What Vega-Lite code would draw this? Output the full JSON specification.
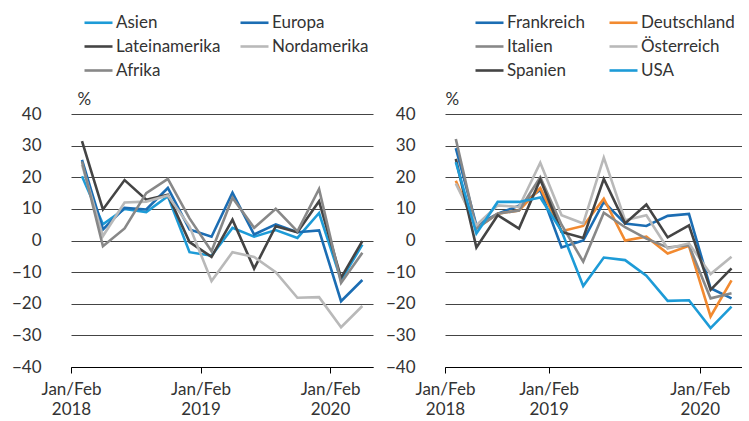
{
  "$schema": "https://vega.github.io/schema/vega-lite/v6.json",
  "padding": {"left": 11, "top": 7, "right": 0, "bottom": 0},
  "background": "white",
  "config": {
    "font": "Lato",
    "view": {"stroke": null},
    "axis": {"labelFont": "Lato", "labelFontSize": 17, "labelColor": "#333333", "titleFont": "Lato", "titleFontSize": 17, "titleColor": "#333333", "titleFontWeight": "normal"},
    "legend": {"labelFont": "Lato", "labelFontSize": 17, "labelColor": "#333333"},
    "line": {"strokeWidth": 2.6}
  },
  "datasets": {
    "regionen": [
      {"region": "Asien", "date": "2018-02-01T00:00:00", "value": 20.3},
      {"region": "Asien", "date": "2018-04-01T00:00:00", "value": 5.1},
      {"region": "Asien", "date": "2018-06-01T00:00:00", "value": 10},
      {"region": "Asien", "date": "2018-08-01T00:00:00", "value": 9},
      {"region": "Asien", "date": "2018-10-01T00:00:00", "value": 14},
      {"region": "Asien", "date": "2018-12-01T00:00:00", "value": -3.7},
      {"region": "Asien", "date": "2019-02-01T00:00:00", "value": -4.8},
      {"region": "Asien", "date": "2019-04-01T00:00:00", "value": 4},
      {"region": "Asien", "date": "2019-06-01T00:00:00", "value": 1.2},
      {"region": "Asien", "date": "2019-08-01T00:00:00", "value": 3.3},
      {"region": "Asien", "date": "2019-10-01T00:00:00", "value": 0.8},
      {"region": "Asien", "date": "2019-12-01T00:00:00", "value": 8.7},
      {"region": "Asien", "date": "2020-02-01T00:00:00", "value": -12.5},
      {"region": "Asien", "date": "2020-04-01T00:00:00", "value": -1.3},
      {"region": "Europa", "date": "2018-02-01T00:00:00", "value": 25.5},
      {"region": "Europa", "date": "2018-04-01T00:00:00", "value": 3.5},
      {"region": "Europa", "date": "2018-06-01T00:00:00", "value": 10.3},
      {"region": "Europa", "date": "2018-08-01T00:00:00", "value": 9.8},
      {"region": "Europa", "date": "2018-10-01T00:00:00", "value": 16.6},
      {"region": "Europa", "date": "2018-12-01T00:00:00", "value": 3.5},
      {"region": "Europa", "date": "2019-02-01T00:00:00", "value": 1.2},
      {"region": "Europa", "date": "2019-04-01T00:00:00", "value": 15.1},
      {"region": "Europa", "date": "2019-06-01T00:00:00", "value": 1.9},
      {"region": "Europa", "date": "2019-08-01T00:00:00", "value": 5.1},
      {"region": "Europa", "date": "2019-10-01T00:00:00", "value": 2.6},
      {"region": "Europa", "date": "2019-12-01T00:00:00", "value": 3.2},
      {"region": "Europa", "date": "2020-02-01T00:00:00", "value": -19.2},
      {"region": "Europa", "date": "2020-04-01T00:00:00", "value": -12.5},
      {"region": "Lateinamerika", "date": "2018-02-01T00:00:00", "value": 31.4},
      {"region": "Lateinamerika", "date": "2018-04-01T00:00:00", "value": 9.8},
      {"region": "Lateinamerika", "date": "2018-06-01T00:00:00", "value": 19.1},
      {"region": "Lateinamerika", "date": "2018-08-01T00:00:00", "value": 12.9},
      {"region": "Lateinamerika", "date": "2018-10-01T00:00:00", "value": 14.5},
      {"region": "Lateinamerika", "date": "2018-12-01T00:00:00", "value": -0.5},
      {"region": "Lateinamerika", "date": "2019-02-01T00:00:00", "value": -5.2},
      {"region": "Lateinamerika", "date": "2019-04-01T00:00:00", "value": 6.6},
      {"region": "Lateinamerika", "date": "2019-06-01T00:00:00", "value": -8.9},
      {"region": "Lateinamerika", "date": "2019-08-01T00:00:00", "value": 4.5},
      {"region": "Lateinamerika", "date": "2019-10-01T00:00:00", "value": 2.6},
      {"region": "Lateinamerika", "date": "2019-12-01T00:00:00", "value": 12.4},
      {"region": "Lateinamerika", "date": "2020-02-01T00:00:00", "value": -11.8},
      {"region": "Lateinamerika", "date": "2020-04-01T00:00:00", "value": -0.2},
      {"region": "Nordamerika", "date": "2018-02-01T00:00:00", "value": 24},
      {"region": "Nordamerika", "date": "2018-04-01T00:00:00", "value": 1.4},
      {"region": "Nordamerika", "date": "2018-06-01T00:00:00", "value": 12},
      {"region": "Nordamerika", "date": "2018-08-01T00:00:00", "value": 12.3},
      {"region": "Nordamerika", "date": "2018-10-01T00:00:00", "value": 14.2},
      {"region": "Nordamerika", "date": "2018-12-01T00:00:00", "value": 4.5},
      {"region": "Nordamerika", "date": "2019-02-01T00:00:00", "value": -12.8},
      {"region": "Nordamerika", "date": "2019-04-01T00:00:00", "value": -3.7},
      {"region": "Nordamerika", "date": "2019-06-01T00:00:00", "value": -5.2},
      {"region": "Nordamerika", "date": "2019-08-01T00:00:00", "value": -10},
      {"region": "Nordamerika", "date": "2019-10-01T00:00:00", "value": -18.1},
      {"region": "Nordamerika", "date": "2019-12-01T00:00:00", "value": -17.9},
      {"region": "Nordamerika", "date": "2020-02-01T00:00:00", "value": -27.4},
      {"region": "Nordamerika", "date": "2020-04-01T00:00:00", "value": -20.7},
      {"region": "Afrika", "date": "2018-02-01T00:00:00", "value": 25},
      {"region": "Afrika", "date": "2018-04-01T00:00:00", "value": -1.8},
      {"region": "Afrika", "date": "2018-06-01T00:00:00", "value": 3.8},
      {"region": "Afrika", "date": "2018-08-01T00:00:00", "value": 15},
      {"region": "Afrika", "date": "2018-10-01T00:00:00", "value": 19.5},
      {"region": "Afrika", "date": "2018-12-01T00:00:00", "value": 7},
      {"region": "Afrika", "date": "2019-02-01T00:00:00", "value": -3.4},
      {"region": "Afrika", "date": "2019-04-01T00:00:00", "value": 13.5},
      {"region": "Afrika", "date": "2019-06-01T00:00:00", "value": 4},
      {"region": "Afrika", "date": "2019-08-01T00:00:00", "value": 10},
      {"region": "Afrika", "date": "2019-10-01T00:00:00", "value": 2.9},
      {"region": "Afrika", "date": "2019-12-01T00:00:00", "value": 16.3},
      {"region": "Afrika", "date": "2020-02-01T00:00:00", "value": -13.4},
      {"region": "Afrika", "date": "2020-04-01T00:00:00", "value": -3.9}
    ],
    "laender": [
      {"land": "Frankreich", "date": "2018-02-01T00:00:00", "value": 29.2},
      {"land": "Frankreich", "date": "2018-04-01T00:00:00", "value": 4.8},
      {"land": "Frankreich", "date": "2018-06-01T00:00:00", "value": 8.5},
      {"land": "Frankreich", "date": "2018-08-01T00:00:00", "value": 11},
      {"land": "Frankreich", "date": "2018-10-01T00:00:00", "value": 16},
      {"land": "Frankreich", "date": "2018-12-01T00:00:00", "value": -2.2},
      {"land": "Frankreich", "date": "2019-02-01T00:00:00", "value": 0},
      {"land": "Frankreich", "date": "2019-04-01T00:00:00", "value": 12.2},
      {"land": "Frankreich", "date": "2019-06-01T00:00:00", "value": 5.4},
      {"land": "Frankreich", "date": "2019-08-01T00:00:00", "value": 4.6},
      {"land": "Frankreich", "date": "2019-10-01T00:00:00", "value": 7.8},
      {"land": "Frankreich", "date": "2019-12-01T00:00:00", "value": 8.4},
      {"land": "Frankreich", "date": "2020-02-01T00:00:00", "value": -15.1},
      {"land": "Frankreich", "date": "2020-04-01T00:00:00", "value": -18.3},
      {"land": "Deutschland", "date": "2018-02-01T00:00:00", "value": 18.9},
      {"land": "Deutschland", "date": "2018-04-01T00:00:00", "value": 3.8},
      {"land": "Deutschland", "date": "2018-06-01T00:00:00", "value": 8.5},
      {"land": "Deutschland", "date": "2018-08-01T00:00:00", "value": 9.5},
      {"land": "Deutschland", "date": "2018-10-01T00:00:00", "value": 16.6},
      {"land": "Deutschland", "date": "2018-12-01T00:00:00", "value": 2.9},
      {"land": "Deutschland", "date": "2019-02-01T00:00:00", "value": 4.6},
      {"land": "Deutschland", "date": "2019-04-01T00:00:00", "value": 13.2},
      {"land": "Deutschland", "date": "2019-06-01T00:00:00", "value": 0},
      {"land": "Deutschland", "date": "2019-08-01T00:00:00", "value": 1.2},
      {"land": "Deutschland", "date": "2019-10-01T00:00:00", "value": -4.1},
      {"land": "Deutschland", "date": "2019-12-01T00:00:00", "value": -1.7},
      {"land": "Deutschland", "date": "2020-02-01T00:00:00", "value": -24},
      {"land": "Deutschland", "date": "2020-04-01T00:00:00", "value": -12.6},
      {"land": "Italien", "date": "2018-02-01T00:00:00", "value": 32.1},
      {"land": "Italien", "date": "2018-04-01T00:00:00", "value": 3.8},
      {"land": "Italien", "date": "2018-06-01T00:00:00", "value": 8.5},
      {"land": "Italien", "date": "2018-08-01T00:00:00", "value": 9.5},
      {"land": "Italien", "date": "2018-10-01T00:00:00", "value": 20},
      {"land": "Italien", "date": "2018-12-01T00:00:00", "value": 5},
      {"land": "Italien", "date": "2019-02-01T00:00:00", "value": -6.7},
      {"land": "Italien", "date": "2019-04-01T00:00:00", "value": 8.8},
      {"land": "Italien", "date": "2019-06-01T00:00:00", "value": 4.2},
      {"land": "Italien", "date": "2019-08-01T00:00:00", "value": 0.6},
      {"land": "Italien", "date": "2019-10-01T00:00:00", "value": -2.2},
      {"land": "Italien", "date": "2019-12-01T00:00:00", "value": -1.5},
      {"land": "Italien", "date": "2020-02-01T00:00:00", "value": -18.3},
      {"land": "Italien", "date": "2020-04-01T00:00:00", "value": -16.7},
      {"land": "Österreich", "date": "2018-02-01T00:00:00", "value": 18},
      {"land": "Österreich", "date": "2018-04-01T00:00:00", "value": 4.8},
      {"land": "Österreich", "date": "2018-06-01T00:00:00", "value": 11.1},
      {"land": "Österreich", "date": "2018-08-01T00:00:00", "value": 10.6},
      {"land": "Österreich", "date": "2018-10-01T00:00:00", "value": 24.6},
      {"land": "Österreich", "date": "2018-12-01T00:00:00", "value": 8},
      {"land": "Österreich", "date": "2019-02-01T00:00:00", "value": 5.4},
      {"land": "Österreich", "date": "2019-04-01T00:00:00", "value": 26.2},
      {"land": "Österreich", "date": "2019-06-01T00:00:00", "value": 6.4},
      {"land": "Österreich", "date": "2019-08-01T00:00:00", "value": 8},
      {"land": "Österreich", "date": "2019-10-01T00:00:00", "value": -2.5},
      {"land": "Österreich", "date": "2019-12-01T00:00:00", "value": -0.9},
      {"land": "Österreich", "date": "2020-02-01T00:00:00", "value": -10.6},
      {"land": "Österreich", "date": "2020-04-01T00:00:00", "value": -5.1},
      {"land": "Spanien", "date": "2018-02-01T00:00:00", "value": 25.8},
      {"land": "Spanien", "date": "2018-04-01T00:00:00", "value": -2.2},
      {"land": "Spanien", "date": "2018-06-01T00:00:00", "value": 8},
      {"land": "Spanien", "date": "2018-08-01T00:00:00", "value": 3.8},
      {"land": "Spanien", "date": "2018-10-01T00:00:00", "value": 19.3},
      {"land": "Spanien", "date": "2018-12-01T00:00:00", "value": 2.7},
      {"land": "Spanien", "date": "2019-02-01T00:00:00", "value": 0.8},
      {"land": "Spanien", "date": "2019-04-01T00:00:00", "value": 19.5},
      {"land": "Spanien", "date": "2019-06-01T00:00:00", "value": 5.4},
      {"land": "Spanien", "date": "2019-08-01T00:00:00", "value": 11.4},
      {"land": "Spanien", "date": "2019-10-01T00:00:00", "value": 1},
      {"land": "Spanien", "date": "2019-12-01T00:00:00", "value": 4.8},
      {"land": "Spanien", "date": "2020-02-01T00:00:00", "value": -15.6},
      {"land": "Spanien", "date": "2020-04-01T00:00:00", "value": -8.8},
      {"land": "USA", "date": "2018-02-01T00:00:00", "value": 24.8},
      {"land": "USA", "date": "2018-04-01T00:00:00", "value": 2.2},
      {"land": "USA", "date": "2018-06-01T00:00:00", "value": 12.2},
      {"land": "USA", "date": "2018-08-01T00:00:00", "value": 12.2},
      {"land": "USA", "date": "2018-10-01T00:00:00", "value": 13.6},
      {"land": "USA", "date": "2018-12-01T00:00:00", "value": 3},
      {"land": "USA", "date": "2019-02-01T00:00:00", "value": -14.4},
      {"land": "USA", "date": "2019-04-01T00:00:00", "value": -5.4},
      {"land": "USA", "date": "2019-06-01T00:00:00", "value": -6.2},
      {"land": "USA", "date": "2019-08-01T00:00:00", "value": -11.1},
      {"land": "USA", "date": "2019-10-01T00:00:00", "value": -19.1},
      {"land": "USA", "date": "2019-12-01T00:00:00", "value": -18.9},
      {"land": "USA", "date": "2020-02-01T00:00:00", "value": -27.7},
      {"land": "USA", "date": "2020-04-01T00:00:00", "value": -20.9}
    ]
  },
  "spacing": 12,
  "resolve": {"scale": {"color": "independent", "x": "independent", "y": "independent"}, "legend": {"color": "independent"}},
  "hconcat": [
    {
      "width": 302,
      "height": 253,
      "data": {"name": "regionen"},
      "mark": {"type": "line", "strokeWidth": 2.6},
      "encoding": {
        "x": {
          "field": "date", "type": "temporal",
          "scale": {"domain": [{"year": 2018, "month": 1, "date": 1}, {"year": 2020, "month": 5, "date": 1}]},
          "axis": {
            "title": null, "grid": false, "domain": true, "domainColor": "#000000", "domainWidth": 1,
            "ticks": true, "tickColor": "#000000", "tickSize": 6,
            "values": [{"year": 2018, "month": 1, "date": 1}, {"year": 2019, "month": 1, "date": 1}, {"year": 2020, "month": 1, "date": 1}],
            "labelExpr": "['Jan/Feb', '' + year(datum.value)]",
            "labelDx": 11, "labelPadding": 8, "labelLineHeight": 20, "labelFlush": false, "labelOverlap": false
          }
        },
        "y": {
          "field": "value", "type": "quantitative",
          "scale": {"domain": [-40, 40], "nice": false, "zero": false},
          "axis": {
            "title": "%", "titleAngle": 0, "titleAlign": "left", "titleBaseline": "bottom", "titleX": 6, "titleY": -6,
            "values": [-40, -30, -20, -10, 0, 10, 20, 30, 40],
            "grid": true, "gridColor": "#444444", "gridWidth": 1,
            "domain": false, "ticks": false, "labelPadding": 30
          }
        },
        "color": {
          "field": "region", "type": "nominal",
          "scale": {"domain": ["Asien", "Europa", "Lateinamerika", "Nordamerika", "Afrika"], "range": ["#1d9bd7", "#1b6db3", "#444444", "#b9b9b9", "#888888"]},
          "legend": {
            "title": null, "orient": "none", "legendX": 12, "legendY": -107, "direction": "horizontal", "columns": 2,
            "symbolType": "stroke", "symbolSize": 784, "symbolStrokeWidth": 3, "labelOffset": 2,
            "columnPadding": 14, "rowPadding": -4, "padding": 0
          }
        }
      }
    },
    {
      "width": 297,
      "height": 253,
      "data": {"name": "laender"},
      "mark": {"type": "line", "strokeWidth": 2.6},
      "encoding": {
        "x": {
          "field": "date", "type": "temporal",
          "scale": {"domain": [{"year": 2018, "month": 1, "date": 1}, {"year": 2020, "month": 5, "date": 1}]},
          "axis": {
            "title": null, "grid": false, "domain": true, "domainColor": "#000000", "domainWidth": 1,
            "ticks": true, "tickColor": "#000000", "tickSize": 6,
            "values": [{"year": 2018, "month": 1, "date": 1}, {"year": 2018, "month": 10, "date": 25}, {"year": 2020, "month": 1, "date": 1}],
            "labelExpr": "['Jan/Feb', '' + (year(datum.value) + (month(datum.value) > 6 ? 1 : 0))]",
            "labelDx": 13, "labelPadding": 8, "labelLineHeight": 20, "labelFlush": false, "labelOverlap": false
          }
        },
        "y": {
          "field": "value", "type": "quantitative",
          "scale": {"domain": [-40, 40], "nice": false, "zero": false},
          "axis": {
            "title": "%", "titleAngle": 0, "titleAlign": "left", "titleBaseline": "bottom", "titleX": 0, "titleY": -6,
            "values": [-40, -30, -20, -10, 0, 10, 20, 30, 40],
            "grid": true, "gridColor": "#444444", "gridWidth": 1,
            "domain": false, "ticks": false, "labelPadding": 30
          }
        },
        "color": {
          "field": "land", "type": "nominal",
          "scale": {"domain": ["Frankreich", "Deutschland", "Italien", "Österreich", "Spanien", "USA"], "range": ["#1b6db3", "#f28a30", "#888888", "#b9b9b9", "#444444", "#1d9bd7"]},
          "legend": {
            "title": null, "orient": "none", "legendX": 29, "legendY": -107, "direction": "horizontal", "columns": 2,
            "symbolType": "stroke", "symbolSize": 784, "symbolStrokeWidth": 3, "labelOffset": 2,
            "columnPadding": 18, "rowPadding": -4, "padding": 0
          }
        }
      }
    }
  ]
}
